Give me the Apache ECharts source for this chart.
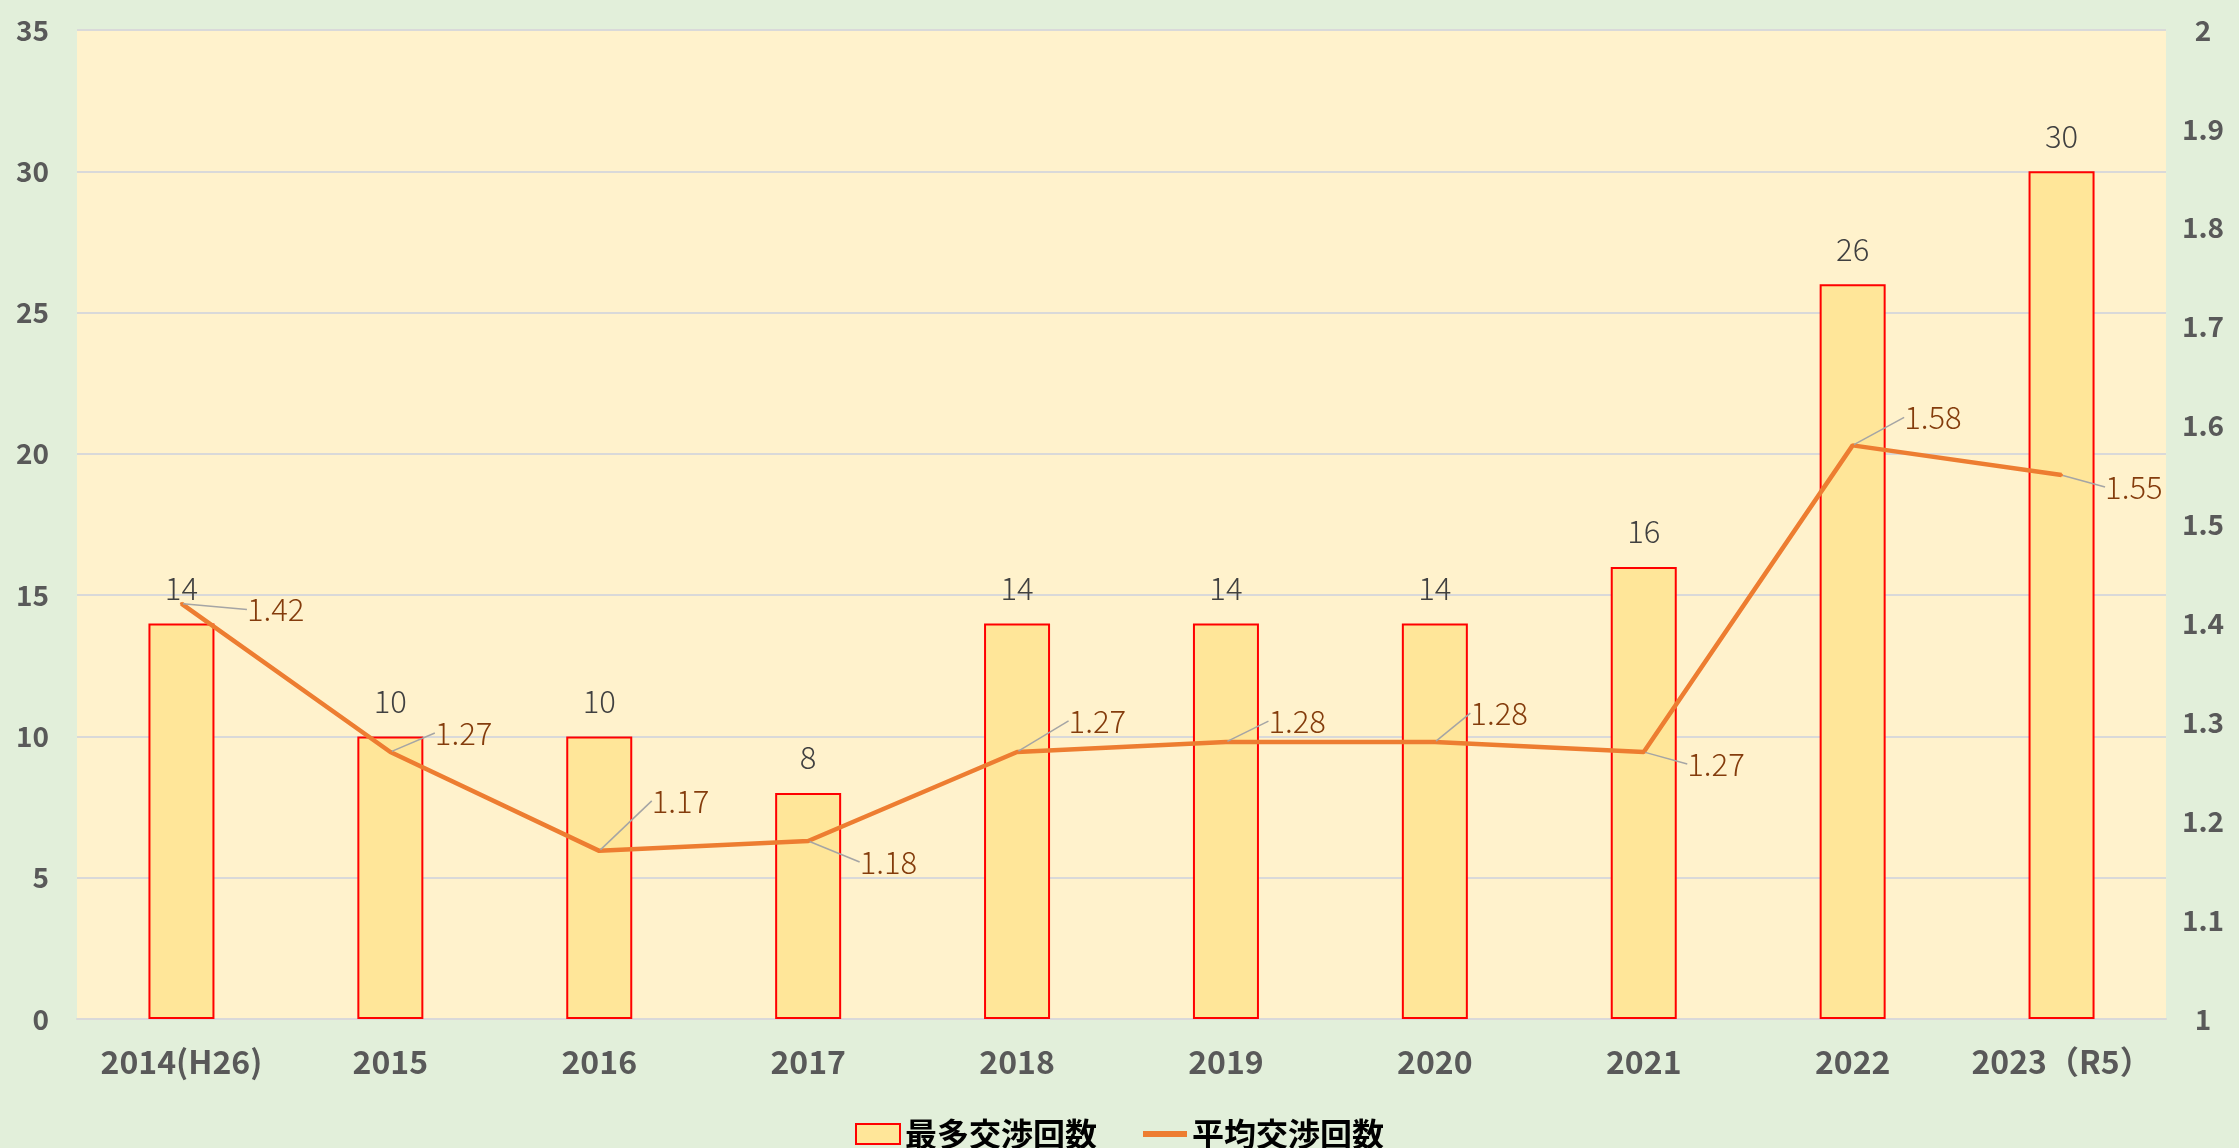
<!DOCTYPE html>
<html>
<head>
<meta charset="utf-8">
<script src="https://cdn.jsdelivr.net/npm/echarts@6/dist/echarts.min.js"></script>
<style>
html,body{margin:0;padding:0;background:#E2EFDA;}
#chart{width:2239px;height:1148px;}
</style>
</head>
<body>
<div id="chart"></div>
<script>
const categories = ['2014(H26)', '2015', '2016', '2017', '2018', '2019', '2020', '2021', '2022', '2023（R5）'];
const maxCounts = [14, 10, 10, 8, 14, 14, 14, 16, 26, 30];
const avgCounts = [1.42, 1.27, 1.17, 1.18, 1.27, 1.28, 1.28, 1.27, 1.58, 1.55];
const seriesNames = ['最多交渉回数', '平均交渉回数'];

// label offsets for the line's data labels (pixels)
const avgLabelShift = [[59, 6], [38, -19], [46, -50], [45, 21], [45, -31], [36, -21], [29, -29], [37, 12], [45, -28], [37, 12]];

const FONT = '"Noto Sans CJK JP", "Noto Sans", sans-serif';
const chart = echarts.init(document.getElementById('chart'), null, {renderer: 'canvas'});

chart.setOption({
  backgroundColor: '#E2EFDA',
  animation: false,
  textStyle: {fontFamily: FONT},
  grid: {
    left: 77, right: 73, top: 30, bottom: 129,
    show: true, backgroundColor: '#FFF2CC', borderWidth: 0
  },
  legend: {
    left: 'center',
    top: 1113,
    itemWidth: 44,
    itemHeight: 20,
    itemGap: 43,
    textStyle: {fontFamily: FONT, fontSize: 32, fontWeight: 'bold', color: '#000000'},
    data: [
      {name: seriesNames[0], icon: 'rect'},
      {name: seriesNames[1], itemStyle: {opacity: 0}, lineStyle: {width: 6}}
    ]
  },
  xAxis: {
    type: 'category',
    data: categories,
    axisTick: {show: false},
    axisLine: {show: true, lineStyle: {color: '#D9D9D9', width: 2}},
    axisLabel: {
      interval: 0, margin: 27,
      fontFamily: FONT, fontSize: 32, fontWeight: 'bold', color: '#595959'
    }
  },
  yAxis: [
    {
      type: 'value', min: 0, max: 35, interval: 5,
      axisLine: {show: false}, axisTick: {show: false},
      splitLine: {show: true, lineStyle: {color: '#D9D9D9', width: 2}},
      axisLabel: {margin: 28, fontFamily: FONT, fontSize: 28, fontWeight: 'bold', color: '#595959'}
    },
    {
      type: 'value', min: 1, max: 2, interval: 0.1,
      position: 'right',
      axisLine: {show: false}, axisTick: {show: false},
      splitLine: {show: false},
      axisLabel: {
        margin: 37, align: 'center',
        fontFamily: FONT, fontSize: 28, fontWeight: 'bold', color: '#595959',
        formatter: v => String(Math.round(v * 10) / 10)
      }
    }
  ],
  series: [
    {
      name: seriesNames[0],
      type: 'bar',
      data: maxCounts,
      yAxisIndex: 0,
      barWidth: 66,
      itemStyle: {color: '#FFE699', borderColor: '#FF0000', borderWidth: 2},
      label: {
        show: true, position: 'top', distance: 20,
        fontFamily: FONT, fontSize: 31, fontWeight: 300, color: '#404040'
      },
      z: 2
    },
    {
      name: seriesNames[1],
      type: 'line',
      data: avgCounts,
      yAxisIndex: 1,
      symbol: 'circle',
      symbolSize: 3,
      showSymbol: true,
      itemStyle: {color: '#ED7D31'},
      lineStyle: {color: '#ED7D31', width: 4.5},
      label: {
        show: true, position: 'right', distance: 5,
        fontFamily: FONT, fontSize: 31, fontWeight: 300, color: '#843C0C',
        formatter: p => p.value.toFixed(2)
      },
      labelLayout: function (params) {
        const s = avgLabelShift[params.dataIndex] || [0, 0];
        return {dx: s[0], dy: s[1]};
      },
      labelLine: {show: true, lineStyle: {color: '#A5A5A5', width: 1.5}},
      z: 3
    }
  ]
});
</script>
</body>
</html>
